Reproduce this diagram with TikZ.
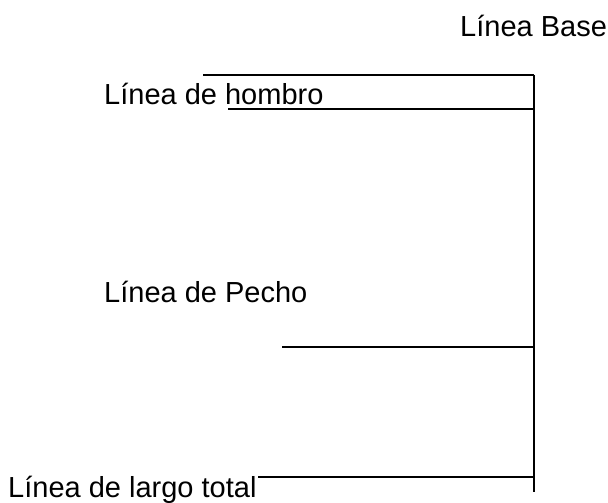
\documentclass[tikz,border=0pt]{standalone}
\usepackage{fontspec}
\setmainfont{Liberation Sans}

\tikzset{etiqueta/.style={anchor=base west,inner sep=0pt,font=\fontsize{29}{35}\selectfont},
  linea/.style={line width=2pt}}

\begin{document}
\begin{tikzpicture}[x=1pt,y=-1pt]
\useasboundingbox (0,0) rectangle (608,503);
  \node[etiqueta] (base) at (460,37) {Línea Base};
  \node[etiqueta] (hombro) at (104,104) {Línea de hombro};
  \node[etiqueta] (pecho) at (104,302) {Línea de Pecho};
  \node[etiqueta] (largo) at (8,497) {Línea de largo total};

  \coordinate (tope) at (534,75);
  \coordinate (fondo) at (534,492);
  \coordinate (h1) at (203,75);
  \coordinate (h2) at (228,109);
  \coordinate (p1) at (282,347);
  \coordinate (l1) at (258,477);

 \draw[linea](tope)--(fondo);
 \draw[linea](h1)--(h1-|tope);
 \draw[linea](h2)--(h2-|tope);
 \draw[linea](p1)--(p1-|tope);
 \draw[linea](l1)--(l1-|tope);

\end{tikzpicture}
\end{document}
